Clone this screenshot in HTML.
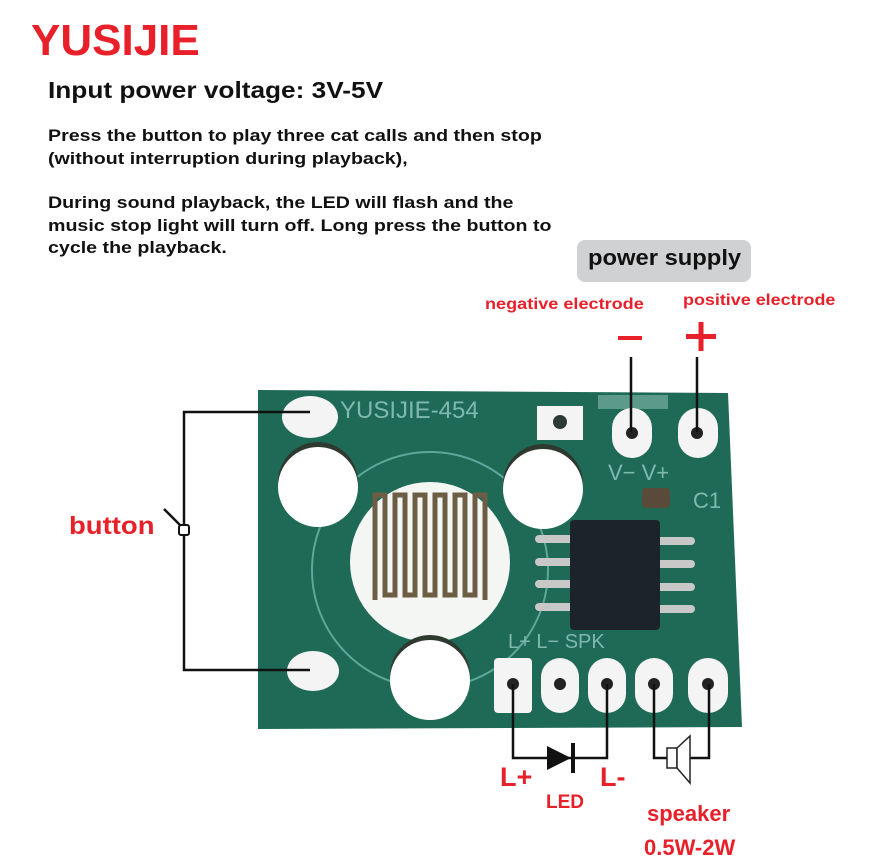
<!DOCTYPE html>
<html><head><meta charset="utf-8"><style>
body{margin:0;width:870px;height:867px;background:#fff;position:relative;overflow:hidden;font-family:"Liberation Sans",sans-serif}
.t{position:absolute;white-space:nowrap;font-weight:bold;transform-origin:0 0}
.r{color:#e8202a}
</style></head><body>
<div class="t r" style="left:31px;top:16px;font-size:44px">YUSIJIE</div>
<div class="t" style="left:48px;top:77px;font-size:23px;transform:scaleX(1.14);color:#111">Input power voltage: 3V-5V</div>
<div class="t" style="left:48px;top:125px;font-size:17px;transform:scaleX(1.154);line-height:22.5px;color:#111">Press the button to play three cat calls and then stop<br>(without interruption during playback),</div>
<div class="t" style="left:48px;top:192px;font-size:17px;transform:scaleX(1.154);line-height:22.5px;color:#111">During sound playback, the LED will flash and the<br>music stop light will turn off. Long press the button to<br>cycle the playback.</div>
<div style="position:absolute;left:577px;top:240px;width:174px;height:42px;background:#d0d1d3;border-radius:8px"></div>
<div class="t" style="left:588px;top:245px;font-size:22px;transform:scaleX(1.08);color:#111">power supply</div>
<div class="t r" style="left:485px;top:296px;font-size:16px;transform:scaleX(1.13)">negative electrode</div>
<div class="t r" style="left:683px;top:292px;font-size:16px;transform:scaleX(1.12)">positive electrode</div>
<div class="t r" style="left:69px;top:512px;font-size:25px;transform:scaleX(1.1)">button</div>
<div class="t r" style="left:500px;top:762px;font-size:27px">L+</div>
<div class="t r" style="left:600px;top:762px;font-size:27px">L-</div>
<div class="t r" style="left:546px;top:792px;font-size:19px">LED</div>
<div class="t r" style="left:647px;top:801px;font-size:22px">speaker</div>
<div class="t r" style="left:644px;top:835px;font-size:22px">0.5W-2W</div>
<svg width="870" height="867" style="position:absolute;left:0;top:0">
<polygon points="258,390 728,393 742,727 258,729" fill="#1e6a56"/>
<circle cx="430" cy="570" r="118" fill="none" stroke="#5fa79a" stroke-width="2"/>
<circle cx="430" cy="562" r="80" fill="#f4f6f4"/>
<path d="M375,600 V495 h10 v100 h10 v-100 h10 v100 h10 v-100 h10 v100 h10 v-100 h10 v100 h10 v-100 h10 v100 h10 v-100 h10 v105" fill="none" stroke="#6d5d45" stroke-width="5"/>
<ellipse cx="310" cy="417" rx="28" ry="21" fill="#f4f4f4"/>
<ellipse cx="313" cy="671" rx="26" ry="20" fill="#f4f4f4"/>
<circle cx="318" cy="482" r="40" fill="#2e3a30"/>
<circle cx="543" cy="484" r="40" fill="#2e3a30"/>
<circle cx="430" cy="675" r="40" fill="#2e3a30"/>
<circle cx="318" cy="487" r="40" fill="#fff"/>
<circle cx="543" cy="489" r="40" fill="#fff"/>
<circle cx="430" cy="680" r="40" fill="#fff"/>
<text x="340" y="418" font-family="Liberation Sans" font-size="24" fill="#7fb9ae">YUSIJIE-454</text>
<rect x="537" y="406" width="46" height="34" fill="#f4f4f4"/><circle cx="560" cy="422" r="7" fill="#2b3b33"/>
<rect x="598" y="395" width="70" height="14" fill="#5c9b8c"/>
<rect x="612" y="408" width="40" height="50" rx="20" fill="#f4f4f4"/><circle cx="632" cy="433" r="6" fill="#222"/>
<rect x="678" y="408" width="40" height="50" rx="20" fill="#f4f4f4"/><circle cx="697" cy="433" r="6" fill="#222"/>
<text x="608" y="480" font-family="Liberation Sans" font-size="22" fill="#7fb9ae">V−  V+</text>
<text x="693" y="508" font-family="Liberation Sans" font-size="22" fill="#7fb9ae">C1</text>
<rect x="642" y="488" width="28" height="20" rx="4" fill="#5a4a3a"/>
<g fill="#c8c8c8"><rect x="535" y="535" width="40" height="8" rx="4"/><rect x="535" y="558" width="40" height="8" rx="4"/><rect x="535" y="580" width="40" height="8" rx="4"/><rect x="535" y="603" width="40" height="8" rx="4"/>
<rect x="655" y="537" width="40" height="8" rx="4"/><rect x="655" y="560" width="40" height="8" rx="4"/><rect x="655" y="583" width="40" height="8" rx="4"/><rect x="655" y="605" width="40" height="8" rx="4"/></g>
<rect x="570" y="520" width="90" height="110" rx="4" fill="#1d232a"/>
<text x="508" y="648" font-family="Liberation Sans" font-size="20" fill="#7fb9ae">L+    L−     SPK</text>
<g fill="#f4f4f4"><rect x="494" y="658" width="38" height="55" rx="4"/><rect x="541" y="658" width="38" height="55" rx="19"/><rect x="588" y="658" width="38" height="55" rx="19"/><rect x="635" y="658" width="38" height="55" rx="19"/><rect x="688" y="658" width="40" height="55" rx="20"/></g>
<g fill="#222"><circle cx="513" cy="684" r="6"/><circle cx="560" cy="684" r="6"/><circle cx="607" cy="684" r="6"/><circle cx="654" cy="684" r="6"/><circle cx="708" cy="684" r="6"/></g>
<g stroke="#111" stroke-width="2.5" fill="none">
<polyline points="310,412 184,412 184,670 310,670"/>
<line x1="631" y1="357" x2="631" y2="432"/><line x1="697" y1="357" x2="697" y2="432"/>
<polyline points="513,684 513,758 607,758 607,684"/>
<polyline points="654,684 654,758 667,758"/><polyline points="709,684 709,758 690,758"/>
<line x1="164" y1="509" x2="182" y2="527"/>
</g>
<rect x="179" y="525" width="10" height="10" rx="2" fill="#fff" stroke="#111" stroke-width="2"/>
<polygon points="547,746 547,770 571,758" fill="#111"/><line x1="573" y1="743" x2="573" y2="773" stroke="#111" stroke-width="4"/>
<rect x="667" y="748" width="10" height="20" fill="#fff" stroke="#222" stroke-width="1.5"/>
<polygon points="677,748 690,736 690,783 677,768" fill="#fff" stroke="#222" stroke-width="1.5"/>
<rect x="618" y="336" width="24" height="4" fill="#e8202a"/>
<rect x="686" y="334" width="30" height="5" fill="#e8202a"/><rect x="698.5" y="322" width="5" height="29" fill="#e8202a"/>
</svg>
</body></html>
